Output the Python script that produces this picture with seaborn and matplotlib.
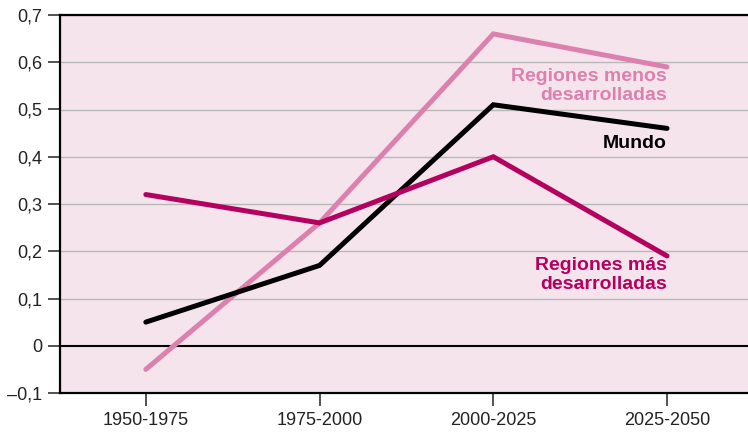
import pandas as pd
import numpy as np
import seaborn as sns
import matplotlib.pyplot as plt
from matplotlib.ticker import FuncFormatter

# Data
periods = ["1950-1975", "1975-2000", "2000-2025", "2025-2050"]
menos = [-0.05, 0.26, 0.66, 0.59]
mundo = [0.05, 0.17, 0.51, 0.46]
mas = [0.32, 0.26, 0.40, 0.19]

series_names = ["Regiones menos\ndesarrolladas", "Mundo", "Regiones más\ndesarrolladas"]
colors = ["#dc80ae", "#000000", "#b4005e"]

df = pd.DataFrame({
    "Periodo": periods * 3,
    "Valor": menos + mundo + mas,
    "Serie": np.repeat(series_names, len(periods)),
})

sns.set_style("white")
plt.rcParams['font.family'] = ['Liberation Sans', 'DejaVu Sans']

fig = plt.figure(figsize=(7.48, 4.34), dpi=100)
ax = fig.add_axes([60 / 748, 41 / 434, 1 - 60 / 748, 378 / 434])
ax.set_facecolor("#f6e4ed")

sns.lineplot(data=df, x="Periodo", y="Valor", hue="Serie", hue_order=series_names,
             palette=colors, linewidth=3.6, ax=ax, legend=False, sort=False,
             zorder=3)
for line in ax.lines:
    line.set_solid_capstyle("round")
    line.set_solid_joinstyle("miter")

ax.set_xlim(-0.494, 3.466)
ax.set_ylim(-0.1, 0.7)
ax.set_yticks(np.arange(-0.1, 0.71, 0.1))
ax.yaxis.set_major_formatter(FuncFormatter(
    lambda v, p: "0" if abs(v) < 1e-9 else f"{v:.1f}".replace(".", ",").replace("-", "\u2013")))
for y in np.arange(0.1, 0.71, 0.1):
    ax.axhline(y, color="#b8b8b8", lw=1.0, zorder=1)
ax.axhline(0, color="black", lw=1.5, zorder=2)

for side in ["left", "bottom", "top"]:
    ax.spines[side].set_color("black")
    ax.spines[side].set_linewidth(1.6)
ax.spines["right"].set_visible(False)

ax.tick_params(axis="y", direction="out", length=9, width=1.2, color="#333333",
               labelsize=13, labelcolor="#222222", pad=4, left=True)
ax.tick_params(axis="x", direction="out", length=9, width=1.2, color="#333333",
               labelsize=13, labelcolor="#222222", pad=5, bottom=True)
ax.set_xlabel("")
ax.set_ylabel("")

last = len(periods) - 1
label_offsets = [(0, -1), (0, -5), (0, -1)]
for name, vals, col, off in zip(series_names, [menos, mundo, mas], colors, label_offsets):
    ax.annotate(name, xy=(last, vals[-1]), xytext=off, textcoords="offset points",
                ha="right", va="top", color=col, fontsize=14, fontweight="bold",
                linespacing=1.1, zorder=4)

fig.savefig("out.png", dpi=100)
